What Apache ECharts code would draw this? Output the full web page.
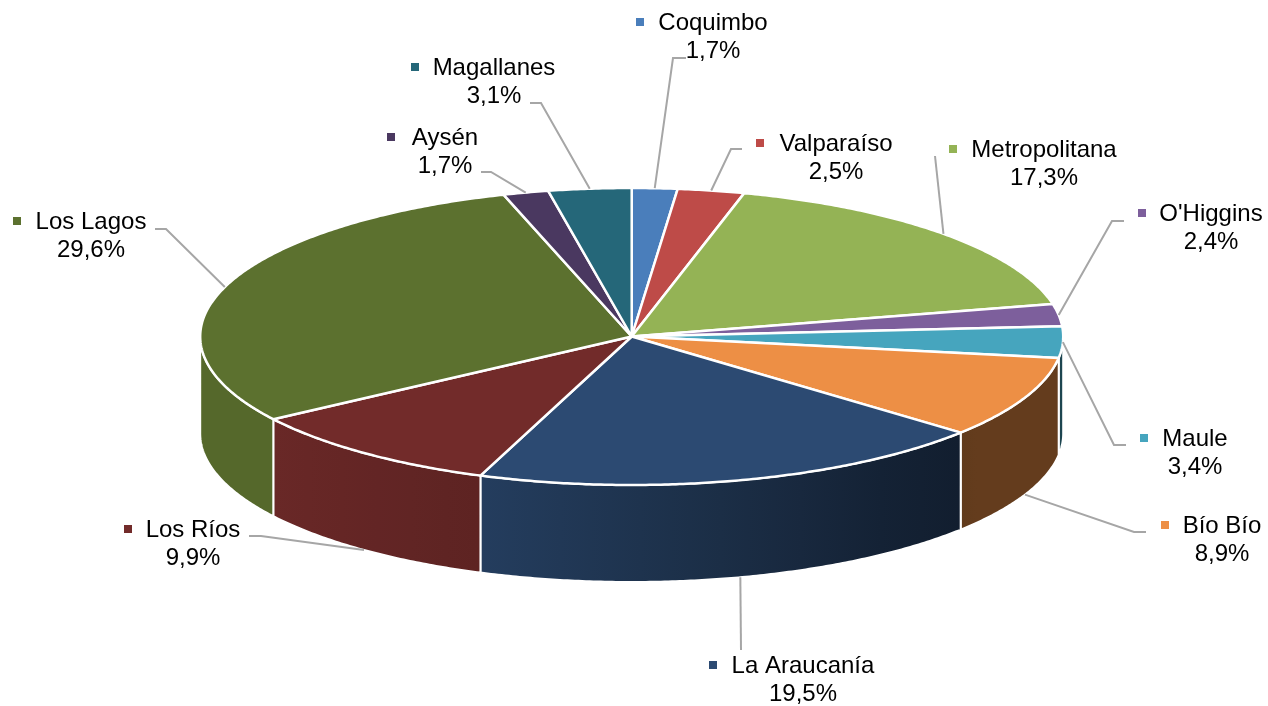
<!DOCTYPE html>
<html>
<head>
<meta charset="utf-8">
<style>
html, body { margin: 0; padding: 0; background: #fff; }
#chart { width: 1268px; height: 706px; }
</style>
<script src="https://cdn.jsdelivr.net/npm/echarts@6/dist/echarts.min.js"></script>
</head>
<body>
<div id="chart"></div>
<script>
// datos
var regions = ['Coquimbo', 'Valparaíso', 'Metropolitana', "O'Higgins", 'Maule', 'Bío Bío', 'La Araucanía', 'Los Ríos', 'Los Lagos', 'Aysén', 'Magallanes'];
var shares = [1.7, 2.5, 17.3, 2.4, 3.4, 8.9, 19.5, 9.9, 29.6, 1.7, 3.1];

// colores
var topColors = ['#4a7ebb', '#be4b48', '#94b355', '#7d5f9c', '#46a5be', '#ed8f45', '#2c4a72', '#722b2a', '#5c712f', '#4a3860', '#256779'];

// geometria del disco
var cx = 631.7, cy = 336.5, rx = 431.5, ry = 148.5, depth = 97;
// luz del costado: [x, factor]
var wallShade = [[200, 0.92], [273, 0.92], [481, 0.82], [740, 0.6], [960, 0.39], [961, 0.42], [1063, 0.42]];

// etiquetas: centro x, y primera linea, x del cuadrito
var labelPos = [
	[713, 23, 640], [836, 144, 760], [1044, 150, 953], [1211, 214, 1142],
	[1195, 439, 1144], [1222, 526, 1165], [803, 666, 713], [193, 530, 128],
	[91, 222, 17], [445, 138, 391], [494, 68, 415]
];
// lineas guia: puntos despues del borde del disco
var leaderBends = [
	[[673, 58], [686, 58]], [[731, 149], [742, 149]], [[935, 156]], [[1112, 221], [1124, 221]],
	[[1114, 445], [1126, 445]], [[1134, 532], [1146, 532]], [[741, 650]], [[261, 536], [249, 536]],
	[[166, 229], [155, 229]], [[491, 172], [481, 172]], [[541, 103], [530, 103]]
];

var total = shares.reduce(function (a, b) { return a + b; }, 0);
var startAngle = [];
var sum = 0;
shares.forEach(function (v) {
	startAngle.push(sum / total * 360);
	sum += v;
});

function endAngle(i) {
	return i + 1 < shares.length ? startAngle[i + 1] : 360;
}

function rim(deg, dy) {
	var a = deg * Math.PI / 180;
	return [cx + rx * Math.sin(a), cy - ry * Math.cos(a) + (dy || 0)];
}

function arc(a0, a1, dy) {
	var pts = [];
	var n = Math.max(2, Math.ceil(Math.abs(a1 - a0) * 2));
	for (var k = 0; k <= n; k++) {
		pts.push(rim(a0 + (a1 - a0) * k / n, dy));
	}
	return pts;
}

function shadeAt(x) {
	for (var k = 1; k < wallShade.length; k++) {
		if (x <= wallShade[k][0]) {
			var t = (x - wallShade[k - 1][0]) / (wallShade[k][0] - wallShade[k - 1][0]);
			return wallShade[k - 1][1] + (wallShade[k][1] - wallShade[k - 1][1]) * t;
		}
	}
	return wallShade[wallShade.length - 1][1];
}

function darken(hex, f) {
	var n = parseInt(hex.slice(1), 16);
	return 'rgb(' + Math.round((n >> 16) * f) + ',' + Math.round(((n >> 8) & 255) * f) + ',' + Math.round((n & 255) * f) + ')';
}

function wallFill(hex, x0, x1) {
	var stops = [];
	for (var k = 0; k <= 6; k++) {
		var x = x0 + (x1 - x0) * k / 6;
		stops.push({ offset: k / 6, color: darken(hex, shadeAt(x)) });
	}
	return { type: 'linear', x: x0, y: 0, x2: x1, y2: 0, global: true, colorStops: stops };
}

function percentText(v) {
	return v.toFixed(1).replace('.', ',') + '%';
}

var textFont = '24px "Liberation Sans", Arial, sans-serif';

var chart = echarts.init(document.getElementById('chart'), null, { renderer: 'canvas' });
chart.setOption({
	animation: false,
	series: [
		{
			// costado, solo la mitad de adelante
			type: 'custom',
			coordinateSystem: 'none',
			silent: true,
			z: 1,
			data: shares,
			renderItem: function (params) {
				var i = params.dataIndex;
				var a0 = Math.max(startAngle[i], 90), a1 = Math.min(endAngle(i), 270);
				if (a1 <= a0) { return null; }
				var upper = arc(a0, a1, 0);
				var lower = arc(a0, a1, depth).reverse();
				var xs = upper.map(function (p) { return p[0]; });
				return {
					type: 'polygon',
					shape: { points: upper.concat(lower) },
					style: {
						fill: wallFill(topColors[i], Math.min.apply(null, xs), Math.max.apply(null, xs)),
						stroke: '#fff',
						lineWidth: 2
					}
				};
			}
		},
		{
			// cara superior
			type: 'custom',
			coordinateSystem: 'none',
			silent: true,
			z: 2,
			data: shares,
			renderItem: function (params) {
				var i = params.dataIndex;
				return {
					type: 'polygon',
					shape: { points: [[cx, cy]].concat(arc(startAngle[i], endAngle(i), 0)) },
					style: { fill: topColors[i], stroke: '#fff', lineWidth: 2.5, lineJoin: 'round' }
				};
			}
		},
		{
			// lineas guia y etiquetas
			type: 'custom',
			coordinateSystem: 'none',
			silent: true,
			z: 3,
			data: shares,
			renderItem: function (params, api) {
				var i = params.dataIndex;
				var mid = (startAngle[i] + endAngle(i)) / 2;
				// del lado de adelante la linea sale del borde inferior
				var dy = (mid > 100 && mid < 270) ? depth : 0;
				var pos = labelPos[i];
				return {
					type: 'group',
					children: [
						{
							type: 'polyline',
							shape: { points: [rim(mid, dy)].concat(leaderBends[i]) },
							style: { fill: null, stroke: '#a6a6a6', lineWidth: 2 }
						},
						{
							type: 'rect',
							shape: { x: pos[2] - 4, y: pos[1] - 5, width: 8, height: 8 },
							style: { fill: topColors[i] }
						},
						{
							type: 'text',
							style: { text: regions[i], x: pos[0], y: pos[1], font: textFont, fill: '#000', textAlign: 'center', textVerticalAlign: 'middle' }
						},
						{
							type: 'text',
							style: { text: percentText(api.value(0)), x: pos[0], y: pos[1] + 28, font: textFont, fill: '#000', textAlign: 'center', textVerticalAlign: 'middle' }
						}
					]
				};
			}
		}
	]
});
</script>
</body>
</html>
